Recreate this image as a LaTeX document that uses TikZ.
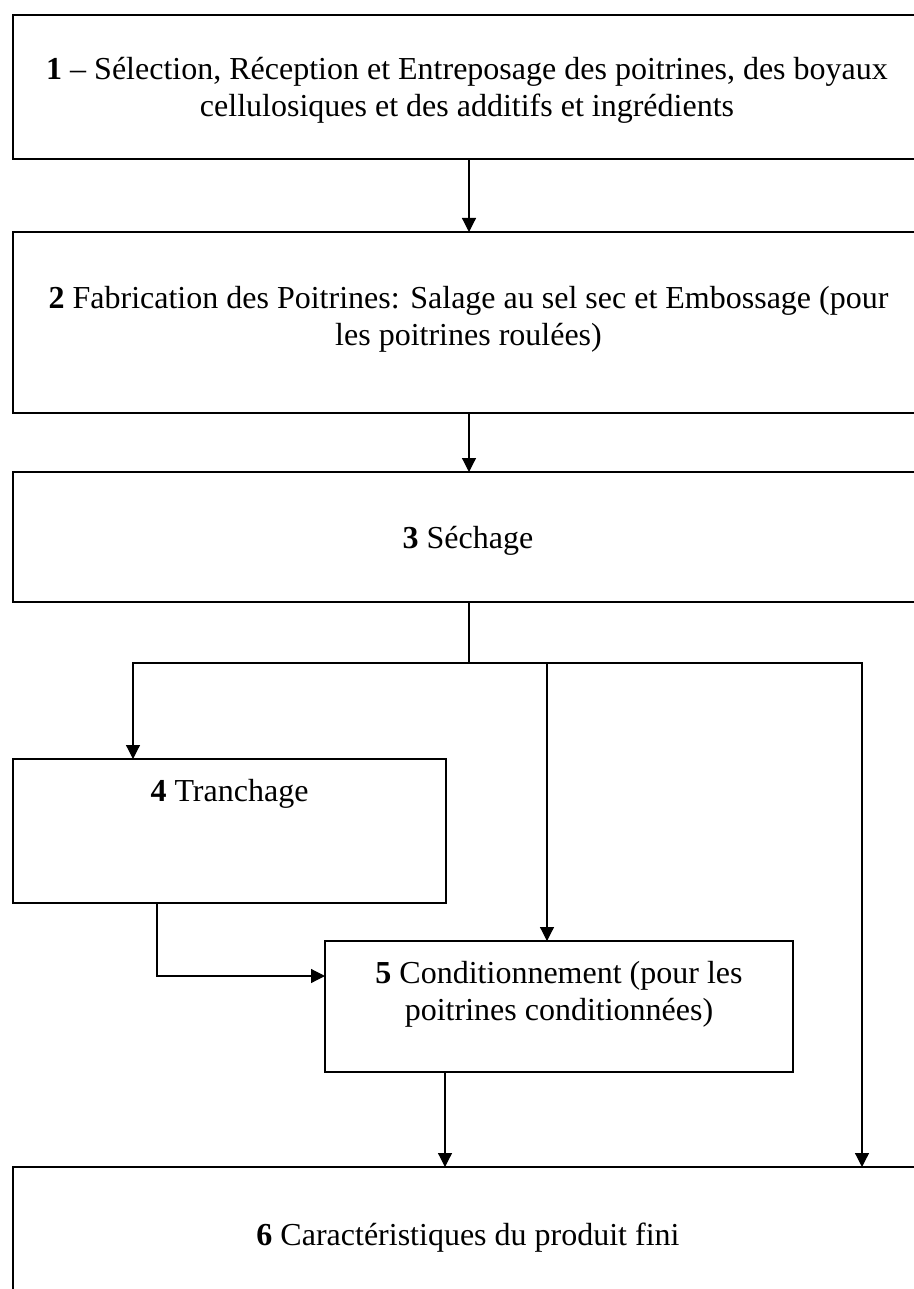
\documentclass[tikz,border=0pt]{standalone}
\usepackage{fontspec}
\setmainfont{Liberation Serif}
\usetikzlibrary{arrows.meta}
\begin{document}
\begin{tikzpicture}[x=0.5pt,y=-0.5pt,
  box/.style={draw, line width=0.9pt, rectangle, inner sep=0pt, outer sep=0pt, anchor=north west},
  txt/.style={inner sep=0pt, align=center, anchor=base, font=\fontsize{16pt}{18.5pt}\selectfont},
  conn/.style={line width=0.6pt},
  arr/.style={conn, -{Triangle[length=7pt,width=7pt]}}]
\useasboundingbox (0,0) rectangle (914,1289);
\clip (0,0) rectangle (914,1289);
\fill[white] (0,0) rectangle (914,1289);
% boxes
\node[box, minimum width=454.5pt, minimum height=72pt]   (b1) at (13,15) {};
\node[box, minimum width=454.5pt, minimum height=90.5pt] (b2) at (13,232) {};
\node[box, minimum width=454.5pt, minimum height=65pt]   (b3) at (13,472) {};
\node[box, minimum width=216.5pt, minimum height=72pt]   (b4) at (13,759) {};
\node[box, minimum width=234pt,   minimum height=65.5pt] (b5) at (325,941) {};
\node[box, minimum width=454.5pt, minimum height=80pt]   (b6) at (13,1167) {};
% texts (anchor base = last line baseline)
\node[txt] (t1) at (467,117) {\textbf{1} -- Sélection, Réception et Entreposage des poitrines, des boyaux\\cellulosiques et des additifs et ingrédients};
\node[txt] (t2) at (468.5,345) {\textbf{2} Fabrication des Poitrines: Salage au sel sec et Embossage (pour\\les poitrines roulées)};
\node[txt] (t3) at (468,548) {\textbf{3} Séchage};
\node[txt] (t4) at (229.5,801) {\textbf{4} Tranchage};
\node[txt] (t5) at (559,1020) {\textbf{5} Conditionnement (pour les\\poitrines conditionnées)};
\node[txt] (t6) at (468,1245) {\textbf{6} Caractéristiques du produit fini};
% helper coordinates
\coordinate (j)  at (469,663);
\coordinate (jL) at (133,663);
\coordinate (jM) at (547,663);
\coordinate (jR) at (862,663);
\coordinate (k)  at (157,976);
\coordinate (m)  at (445,1100);
% connectors
\draw[arr] (b1.south -| j) -- (b2.north -| j);
\draw[arr] (b2.south -| j) -- (b3.north -| j);
\draw[conn] (b3.south -| j) -- (j);
\draw[arr] (j) -| (b4.north -| jL);
\draw[arr] (j) -| (b6.north -| jR);
\draw[arr] (jM) -- (b5.north -| jM);
\draw[arr] (b4.south -| k) |- (b5.west |- k);
\draw[arr] (b5.south -| m) -- (b6.north -| m);
\end{tikzpicture}
\end{document}
